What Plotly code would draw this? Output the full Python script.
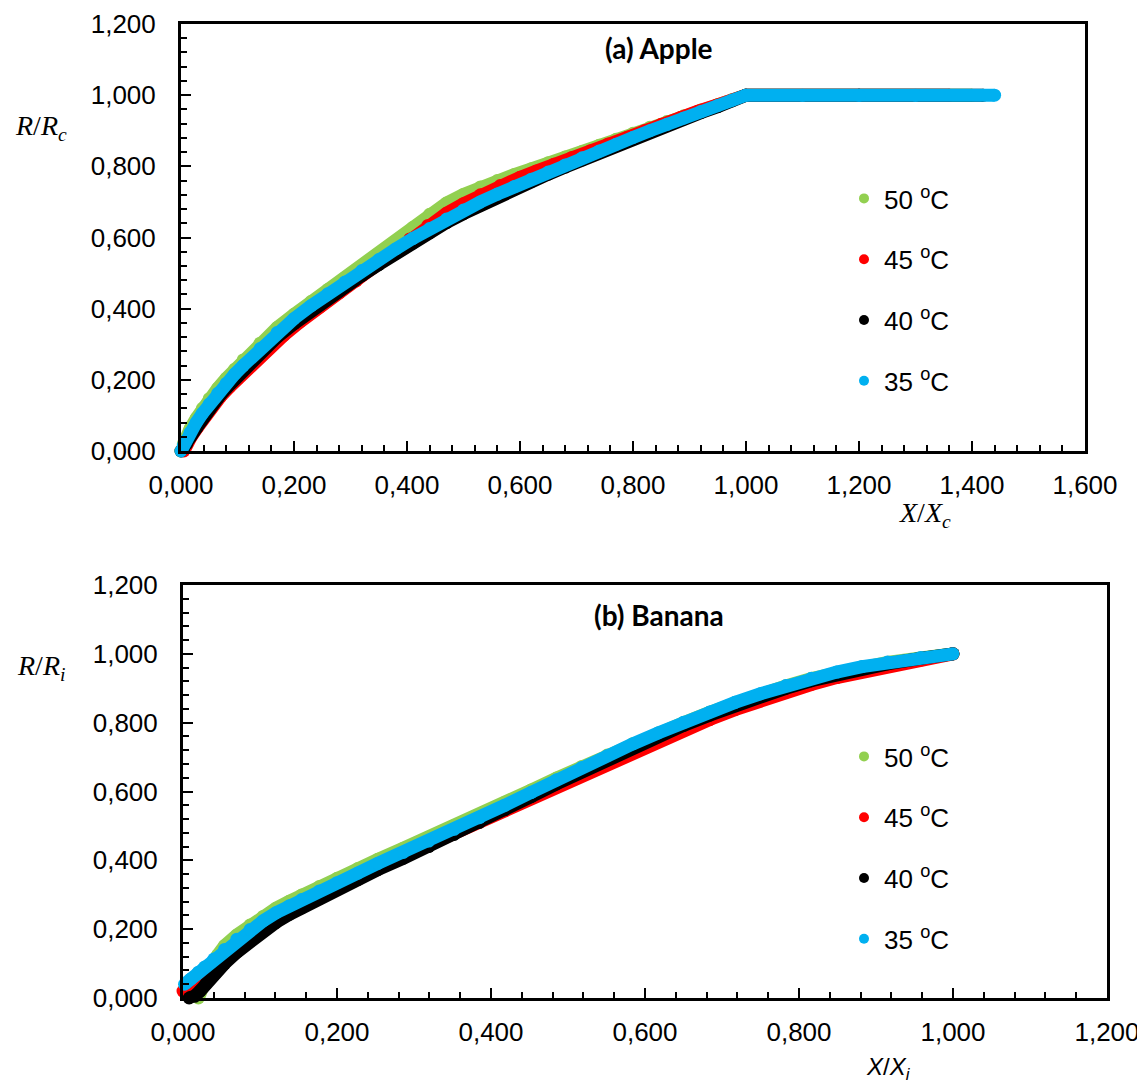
import plotly.graph_objects as go

W, H = 1145, 1086
OFF = 8  # page body margin in the browser

def px(xp):
    return (xp - OFF) / W

def py(yp):
    return 1 - (yp - OFF) / H

# ---------------- DATA ----------------
labels = ["50 <sup>o</sup>C", "45 <sup>o</sup>C", "40 <sup>o</sup>C", "35 <sup>o</sup>C"]
colors = ["#92D050", "#FF0000", "#000000", "#00B0F0"]

# (a) Apple : R/Rc vs X/Xc
apple_50_x = [0, 0.004, 0.009, 0.016, 0.027, 0.038, 0.05, 0.065, 0.08, 0.095, 0.11, 0.14, 0.17, 0.2, 0.23, 0.26, 0.29, 0.32, 0.35, 0.38, 0.41, 0.44, 0.47, 0.50, 0.53, 0.56, 0.59, 0.62, 0.65, 0.68, 0.71, 0.74, 0.77, 0.80, 0.83, 0.86, 0.89, 0.92, 0.95, 0.975, 1.0, 1.2, 1.4]
apple_50_y = [0, 0.02, 0.038, 0.062, 0.092, 0.12, 0.147, 0.176, 0.204, 0.23, 0.256, 0.303, 0.347, 0.384, 0.42, 0.454, 0.487, 0.52, 0.554, 0.59, 0.628, 0.665, 0.697, 0.721, 0.742, 0.76, 0.777, 0.793, 0.81, 0.826, 0.842, 0.859, 0.876, 0.893, 0.91, 0.926, 0.942, 0.958, 0.974, 0.987, 1.0, 1.0, 1.0]
apple_45_x = [0.005, 0.01, 0.018, 0.03, 0.042, 0.054, 0.07, 0.086, 0.1, 0.118, 0.15, 0.182, 0.21, 0.246, 0.28, 0.31, 0.34, 0.373, 0.405, 0.437, 0.47, 0.50, 0.53, 0.565, 0.6, 0.629, 0.66, 0.692, 0.725, 0.756, 0.79, 0.82, 0.85, 0.884, 0.915, 0.948, 0.975, 1.0, 1.2, 1.36]
apple_45_y = [0, 0.02, 0.04, 0.068, 0.097, 0.125, 0.153, 0.18, 0.203, 0.232, 0.28, 0.325, 0.362, 0.405, 0.444, 0.478, 0.515, 0.556, 0.596, 0.634, 0.668, 0.695, 0.72, 0.746, 0.769, 0.787, 0.806, 0.825, 0.844, 0.863, 0.882, 0.90, 0.918, 0.937, 0.955, 0.972, 0.986, 1.0, 1.0, 1.0]
apple_40_x = [0, 0.005, 0.01, 0.017, 0.028, 0.039, 0.051, 0.065, 0.08, 0.095, 0.11, 0.14, 0.17, 0.2, 0.23, 0.26, 0.29, 0.32, 0.35, 0.38, 0.41, 0.44, 0.47, 0.50, 0.53, 0.56, 0.59, 0.62, 0.65, 0.68, 0.71, 0.74, 0.77, 0.80, 0.83, 0.86, 0.89, 0.92, 0.95, 0.975, 1.0, 1.2, 1.42]
apple_40_y = [0, 0.008, 0.02, 0.04, 0.066, 0.093, 0.119, 0.148, 0.176, 0.202, 0.227, 0.276, 0.32, 0.358, 0.394, 0.428, 0.461, 0.493, 0.524, 0.555, 0.584, 0.613, 0.642, 0.667, 0.691, 0.714, 0.736, 0.757, 0.778, 0.798, 0.818, 0.838, 0.858, 0.877, 0.896, 0.915, 0.933, 0.951, 0.968, 0.984, 1.0, 1.0, 1.0]
apple_35_x = [0, 0.004, 0.009, 0.016, 0.027, 0.038, 0.05, 0.065, 0.08, 0.095, 0.11, 0.14, 0.17, 0.2, 0.23, 0.26, 0.29, 0.32, 0.35, 0.38, 0.41, 0.44, 0.47, 0.50, 0.53, 0.56, 0.59, 0.62, 0.65, 0.68, 0.71, 0.74, 0.77, 0.80, 0.83, 0.86, 0.89, 0.92, 0.95, 0.975, 1.0, 1.1, 1.2, 1.3, 1.44]
apple_35_y = [0, 0.015, 0.03, 0.052, 0.08, 0.106, 0.132, 0.162, 0.19, 0.216, 0.24, 0.288, 0.333, 0.372, 0.408, 0.442, 0.475, 0.507, 0.538, 0.568, 0.597, 0.625, 0.652, 0.677, 0.70, 0.722, 0.743, 0.764, 0.784, 0.804, 0.824, 0.843, 0.862, 0.881, 0.90, 0.918, 0.936, 0.954, 0.971, 0.986, 1.0, 1.0, 1.0, 1.0, 1.0]

# (b) Banana : R/Ri vs X/Xi
banana_50_x = [0.02, 0.026, 0.035, 0.045, 0.054, 0.07, 0.087, 0.104, 0.121, 0.138, 0.154, 0.177, 0.2, 0.227, 0.253, 0.286, 0.319, 0.352, 0.385, 0.418, 0.452, 0.485, 0.518, 0.551, 0.584, 0.617, 0.65, 0.684, 0.717, 0.75, 0.783, 0.816, 0.849, 0.882, 0.915, 0.958, 1.0]
banana_50_y = [0.0, 0.04, 0.085, 0.125, 0.152, 0.183, 0.212, 0.237, 0.261, 0.281, 0.299, 0.324, 0.348, 0.376, 0.403, 0.435, 0.467, 0.501, 0.534, 0.569, 0.604, 0.639, 0.673, 0.706, 0.739, 0.77, 0.80, 0.83, 0.858, 0.883, 0.907, 0.928, 0.946, 0.962, 0.975, 0.988, 1.0]
banana_45_x = [0.0, 0.01, 0.02, 0.03, 0.042, 0.054, 0.07, 0.087, 0.104, 0.121, 0.138, 0.154, 0.177, 0.2, 0.227, 0.253, 0.286, 0.319, 0.352, 0.385, 0.418, 0.452, 0.485, 0.518, 0.551, 0.584, 0.617, 0.65, 0.684, 0.717, 0.75, 0.783, 0.816, 0.849, 0.882, 0.915, 0.958, 1.0]
banana_45_y = [0.02, 0.03, 0.05, 0.07, 0.097, 0.125, 0.158, 0.19, 0.216, 0.24, 0.261, 0.28, 0.305, 0.33, 0.357, 0.383, 0.414, 0.445, 0.478, 0.511, 0.545, 0.58, 0.615, 0.65, 0.684, 0.717, 0.748, 0.778, 0.809, 0.838, 0.864, 0.889, 0.911, 0.931, 0.948, 0.964, 0.982, 1.0]
banana_40_x = [0.008, 0.015, 0.022, 0.03, 0.042, 0.054, 0.07, 0.087, 0.104, 0.121, 0.138, 0.154, 0.177, 0.2, 0.227, 0.253, 0.286, 0.319, 0.352, 0.385, 0.418, 0.452, 0.485, 0.518, 0.551, 0.584, 0.617, 0.65, 0.684, 0.717, 0.75, 0.783, 0.816, 0.849, 0.882, 0.915, 0.958, 1.0]
banana_40_y = [0.0, 0.005, 0.02, 0.042, 0.072, 0.10, 0.133, 0.165, 0.194, 0.22, 0.243, 0.262, 0.289, 0.315, 0.344, 0.373, 0.406, 0.44, 0.475, 0.51, 0.547, 0.585, 0.622, 0.658, 0.693, 0.727, 0.76, 0.792, 0.822, 0.85, 0.876, 0.90, 0.922, 0.941, 0.957, 0.971, 0.987, 1.0]
banana_35_x = [0.002, 0.01, 0.02, 0.028, 0.04, 0.054, 0.07, 0.087, 0.104, 0.121, 0.138, 0.154, 0.177, 0.2, 0.227, 0.253, 0.286, 0.319, 0.352, 0.385, 0.418, 0.452, 0.485, 0.518, 0.551, 0.584, 0.617, 0.65, 0.684, 0.717, 0.75, 0.783, 0.816, 0.849, 0.882, 0.915, 0.958, 1.0]
banana_35_y = [0.04, 0.055, 0.075, 0.09, 0.113, 0.141, 0.171, 0.199, 0.224, 0.248, 0.268, 0.286, 0.311, 0.335, 0.363, 0.391, 0.423, 0.456, 0.49, 0.524, 0.56, 0.597, 0.634, 0.67, 0.704, 0.738, 0.77, 0.801, 0.831, 0.859, 0.884, 0.908, 0.929, 0.947, 0.963, 0.976, 0.989, 1.0]

apple = [(apple_50_x, apple_50_y), (apple_45_x, apple_45_y), (apple_40_x, apple_40_y), (apple_35_x, apple_35_y)]
banana = [(banana_50_x, banana_50_y), (banana_45_x, banana_45_y), (banana_40_x, banana_40_y), (banana_35_x, banana_35_y)]

# ---------------- FIGURE ----------------
fig = go.Figure()
BAND = 13

def add_panel(series, xa, ya, leg):
    for (xs, ys), c, lab in zip(series, colors, labels):
        fig.add_trace(go.Scatter(
            x=xs, y=ys, mode="lines+markers", xaxis=xa, yaxis=ya,
            line=dict(color=c, width=BAND),
            marker=dict(color=c, size=BAND),
            cliponaxis=False, showlegend=False, name=lab, hoverinfo="skip"))
    for c, lab in zip(colors, labels):
        fig.add_trace(go.Scatter(
            x=[None], y=[None], mode="markers", xaxis=xa, yaxis=ya,
            marker=dict(color=c, size=10), name=lab, legend=leg,
            legendgroup=leg + lab, showlegend=True))

add_panel(apple, "x", "y", "legend")
add_panel(banana, "x2", "y2", "legend2")

tickfont = dict(family="Liberation Sans, Arial, sans-serif", size=26, color="#000")

def axis(domain, rng, anchor, standoff):
    return dict(
        domain=domain, range=rng, anchor=anchor, dtick=0.2, tick0=0,
        tickformat=".3f", showgrid=False, zeroline=False, automargin=False,
        showline=True, mirror=True, linecolor="#000", linewidth=3,
        ticks="inside", ticklen=10, tickwidth=2, tickcolor="#000",
        minor=dict(dtick=0.04, tick0=0, ticks="inside", ticklen=6, tickwidth=2, tickcolor="#000"),
        tickfont=tickfont, ticklabelstandoff=standoff, fixedrange=True)

top_x = [px(181), px(1085)]
top_y = [py(451), py(24)]
bot_x = [px(183), px(1107)]
bot_y = [py(998), py(585)]

legfont = dict(family="Liberation Sans, Arial, sans-serif", size=26, color="#000")

fig.update_layout(
    width=W, height=H, margin=dict(l=0, r=0, t=0, b=0),
    paper_bgcolor="white", plot_bgcolor="white",
    separators=",.",
    xaxis=axis(top_x, [0, 1.6], "y", 9),
    yaxis=axis(top_y, [0, 1.2], "x", 17),
    xaxis2=axis(bot_x, [0, 1.2], "y2", 9),
    yaxis2=axis(bot_y, [0, 1.2], "x2", 17),
    legend=dict(x=px(844), y=py(175), xanchor="left", yanchor="top",
                font=legfont, tracegroupgap=24, bgcolor="rgba(0,0,0,0)", itemwidth=30),
    legend2=dict(x=px(844), y=py(733), xanchor="left", yanchor="top",
                 font=legfont, tracegroupgap=24, bgcolor="rgba(0,0,0,0)", itemwidth=30),
)

serif = "Liberation Serif, Times New Roman, serif"
sans = "Liberation Sans, Arial, sans-serif"
title_font = dict(family="Lato, Open Sans, sans-serif", size=28, color="#000")

annos = [
    dict(text="<b>(a) Apple</b>", x=px(659), y=py(48), font=title_font),
    dict(text="<b>(b) Banana</b>", x=px(659), y=py(615), font=title_font),
    dict(text="<i>R</i>/<i>R<sub>c</sub></i>", x=px(41), y=py(127), font=dict(family=serif, size=28, color="#000")),
    dict(text="<i>X</i>/<i>X<sub>c</sub></i>", x=px(925), y=py(514), font=dict(family=serif, size=28, color="#000")),
    dict(text="<i>R</i>/<i>R<sub>i</sub></i>", x=px(41), y=py(667), font=dict(family=serif, size=28, color="#000")),
    dict(text="<i>X</i>/<i>X<sub>i</sub></i>", x=px(888), y=py(1068), font=dict(family=sans, size=24, color="#000")),
]
for a in annos:
    fig.add_annotation(xref="paper", yref="paper", showarrow=False,
                       xanchor="center", yanchor="middle", **a)

fig.write_html("out.html")
